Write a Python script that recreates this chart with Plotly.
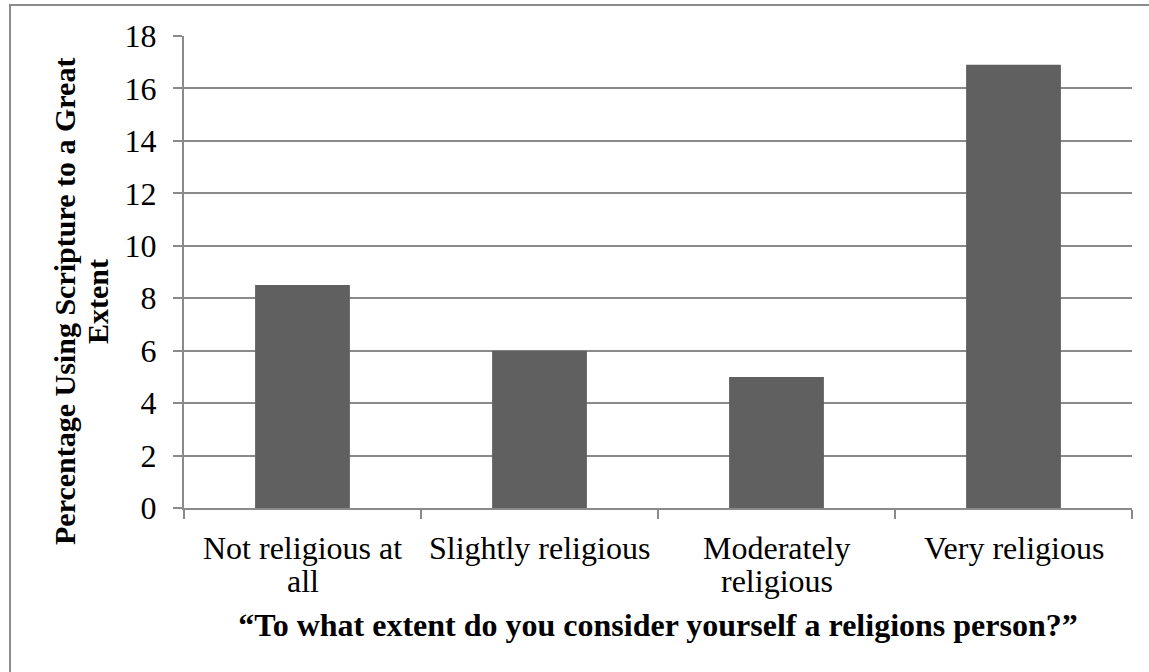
import plotly.graph_objects as go

categories = ["Not religious at all", "Slightly religious", "Moderately religious", "Very religious"]
label_lines = [["Not religious at", "all"], ["Slightly religious"], ["Moderately", "religious"], ["Very religious"]]
values = [8.5, 6.0, 5.0, 16.9]
y_ticks = [0, 2, 4, 6, 8, 10, 12, 14, 16, 18]

x_title = "\u201cTo what extent do you consider yourself a religions person?\u201d"
y_title_lines = ["Percentage Using Scripture to a Great", "Extent"]

SERIF = "Liberation Serif, Times New Roman, serif"
GRID = "#8a8a8a"

# plot area in pixels (for converting decoration positions to paper coordinates)
L, R, T, B = 184, 17, 36, 164
PW, PH = 1149 - L - R, 672 - T - B

fig = go.Figure()
fig.add_trace(go.Bar(
    x=categories, y=values,
    marker=dict(color="#606060", line=dict(width=0)),
    hoverinfo="x+y",
))

annotations = []
for cat, lines in zip(categories, label_lines):
    for i, line in enumerate(lines):
        annotations.append(dict(
            x=cat, y=0, xref="x", yref="y",
            text=line, showarrow=False,
            xanchor="center", yanchor="middle",
            yshift=-40 - 33 * i,
            font=dict(family=SERIF, size=32, color="#000000"),
        ))

# y-axis title, two lines with tight line spacing
for i, line in enumerate(y_title_lines):
    px = 64 + 33 * i
    annotations.append(dict(
        x=(px - L) / PW, y=(672 - B - 302) / PH, xref="paper", yref="paper",
        text="<b>" + line + "</b>", showarrow=False, textangle=-90,
        xanchor="center", yanchor="middle",
        font=dict(family=SERIF, size=30, color="#000000"),
    ))

fig.update_layout(
    width=1149, height=672,
    margin=dict(l=L, r=R, t=T, b=B),
    paper_bgcolor="#ffffff", plot_bgcolor="#ffffff",
    bargap=0.6,
    showlegend=False,
    font=dict(family=SERIF, color="#000000"),
    annotations=annotations,
    shapes=[dict(
        type="rect", xref="paper", yref="paper",
        x0=(10 - L) / PW, x1=1.1, y0=-0.5, y1=1 + (T - 5) / PH,
        line=dict(color="#8c8c8c", width=2), fillcolor="rgba(0,0,0,0)", layer="below",
    )],
    xaxis=dict(
        showgrid=False,
        showline=True, linecolor=GRID, linewidth=2,
        showticklabels=False,
        ticks="outside", ticklen=9, tickcolor=GRID, tickwidth=2,
        tickson="boundaries",
        title=dict(text="<b>" + x_title + "</b>", font=dict(family=SERIF, size=32, color="#000000"), standoff=105),
    ),
    yaxis=dict(
        range=[0, 18],
        tickvals=y_ticks, ticktext=[str(v) for v in y_ticks],
        showgrid=True, gridcolor=GRID, gridwidth=2,
        showline=True, linecolor=GRID, linewidth=2,
        ticks="outside", ticklen=9, tickcolor=GRID, tickwidth=2,
        ticklabelstandoff=10,
        tickfont=dict(family=SERIF, size=32, color="#000000"),
        zeroline=False,
    ),
)

fig.write_html("out.html")
